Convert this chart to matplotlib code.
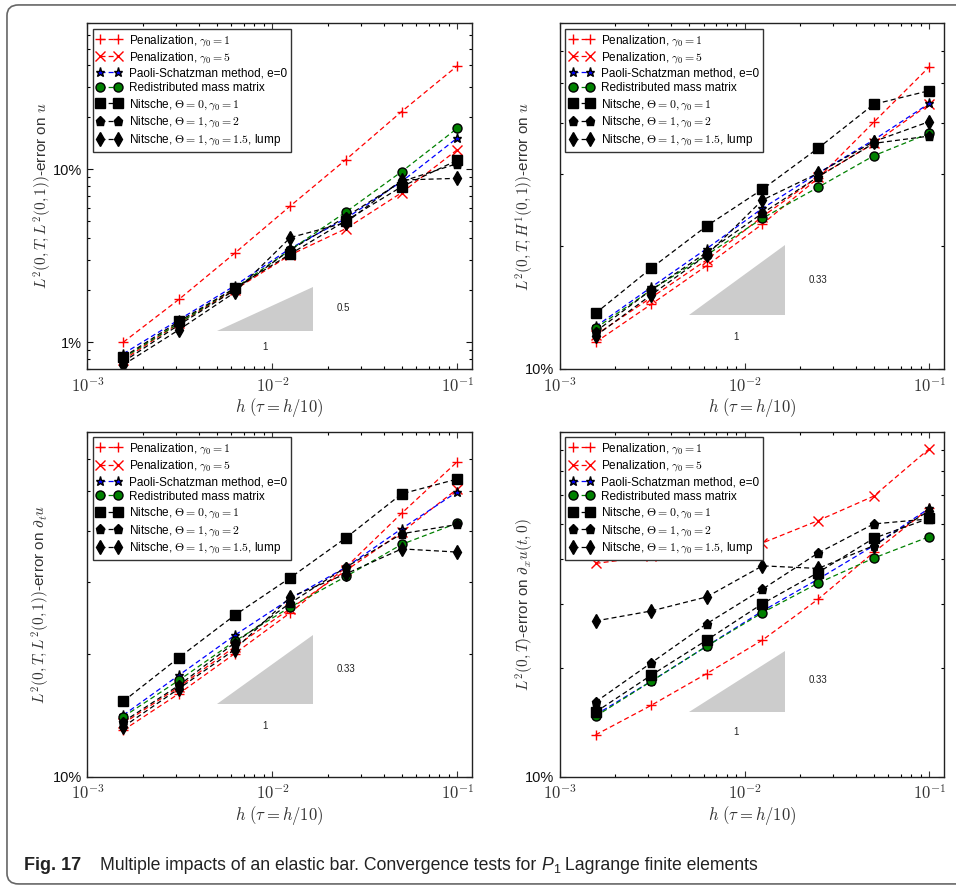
import numpy as np
import matplotlib
matplotlib.use("Agg")
import matplotlib.pyplot as plt
from matplotlib.patches import FancyBboxPatch, Polygon
from matplotlib.ticker import LogLocator, FuncFormatter, NullFormatter

plt.rcParams['font.family'] = ['Liberation Sans', 'DejaVu Sans']
plt.rcParams['mathtext.fontset'] = 'cm'

# mesh sizes
h = [1/640, 1/320, 1/160, 1/80, 1/40, 1/20, 1/10]

labels = ["Penalization, $\\gamma_0 = 1$",
          "Penalization, $\\gamma_0 = 5$",
          "Paoli-Schatzman method, e=0",
          "Redistributed mass matrix",
          "Nitsche, $\\Theta = 0, \\gamma_0 = 1$",
          "Nitsche, $\\Theta = 1, \\gamma_0 = 2$",
          "Nitsche, $\\Theta = 1, \\gamma_0 = 1.5$, lump"]
colors = ['r', 'r', 'b', 'g', 'k', 'k', 'k']
markers = ['+', 'x', '*', 'o', 's', 'p', 'd']

# L2(0,T,L2(0,1)) error on u
err_u_l2 = [
    [0.0100, 0.0177, 0.0327, 0.0614, 0.114, 0.216, 0.397],
    [0.0079, 0.0129, 0.0201, 0.0320, 0.0454, 0.0733, 0.130],
    [0.00857, 0.0135, 0.0212, 0.0349, 0.052, 0.085, 0.152],
    [0.0081, 0.0129, 0.0205, 0.0342, 0.0567, 0.097, 0.173],
    [0.0082, 0.0132, 0.0205, 0.0324, 0.0505, 0.0794, 0.113],
    [0.0077, 0.0126, 0.0200, 0.0342, 0.0532, 0.085, 0.108],
    [0.0074, 0.0118, 0.0194, 0.0403, 0.0492, 0.0868, 0.0887],
]
# L2(0,T,H1(0,1)) error on u
err_u_h1 = [
    [0.1162, 0.1439, 0.179, 0.2262, 0.2927, 0.401, 0.548],
    [0.1211, 0.1494, 0.1848, 0.2358, 0.295, 0.356, 0.444],
    [0.127, 0.1584, 0.197, 0.247, 0.301, 0.363, 0.446],
    [0.1257, 0.156, 0.190, 0.2336, 0.278, 0.332, 0.377],
    [0.1368, 0.1763, 0.2237, 0.275, 0.3464, 0.4436, 0.479],
    [0.1234, 0.156, 0.1928, 0.2403, 0.295, 0.356, 0.371],
    [0.1204, 0.1517, 0.190, 0.2588, 0.301, 0.3597, 0.4025],
]
# L2(0,T,L2(0,1)) error on d_t u
err_dtu = [
    [0.130, 0.1598, 0.2002, 0.2522, 0.326, 0.442, 0.591],
    [0.135, 0.166, 0.208, 0.258, 0.320, 0.397, 0.507],
    [0.1415, 0.1773, 0.222, 0.273, 0.326, 0.405, 0.499],
    [0.1402, 0.1723, 0.2147, 0.2604, 0.3094, 0.3707, 0.418],
    [0.153, 0.1958, 0.2485, 0.3072, 0.3848, 0.493, 0.536],
    [0.1363, 0.1675, 0.2127, 0.2664, 0.326, 0.3936, 0.4148],
    [0.1325, 0.1644, 0.2048, 0.2755, 0.314, 0.3614, 0.355],
]
# L2(0,T) error on d_x u(t,0)
err_dxu = [
    [0.1305, 0.1575, 0.1929, 0.2387, 0.3096, 0.4173, 0.553],
    [0.389, 0.4067, 0.4244, 0.443, 0.5108, 0.597, 0.808],
    [0.1483, 0.1836, 0.2297, 0.2873, 0.3518, 0.4355, 0.553],
    [0.1468, 0.1836, 0.2297, 0.2843, 0.343, 0.4024, 0.4613],
    [0.1509, 0.1908, 0.2387, 0.301, 0.367, 0.4564, 0.5186],
    [0.1609, 0.2064, 0.265, 0.330, 0.4155, 0.5002, 0.5164],
    [0.2696, 0.2873, 0.3143, 0.383, 0.3767, 0.4355, 0.5445],
]

ylabels = ["$L^2(0,T,L^2(0,1))$-error on $u$",
           "$L^2(0,T,H^1(0,1))$-error on $u$",
           "$L^2(0,T,L^2(0,1))$-error on $\\partial_t u$",
           "$L^2(0,T)$-error on $\\partial_x u(t,0)$"]
ylims = [(0.007, 0.7), (0.1, 0.7), (0.1, 0.7), (0.1, 0.9)]
ylabel_x = [-0.088, -0.0616, -0.092, -0.0616]

# slope triangles
tri_x = [0.005, 0.0165]
tri_base = [0.01154, 0.1355, 0.1503, 0.1506]
tri_slope = [0.5, 0.33, 0.33, 0.33]
slope_txt = ["0.5", "0.33", "0.33", "0.33"]
slope_txt_pos = [(0.0241, 0.0157), (0.0249, 0.165), (0.0249, 0.184), (0.0249, 0.1848)]
one_txt_pos = [(0.0091, 0.0094), (0.0090, 0.1195), (0.0091, 0.1332), (0.0090, 0.1327)]

data = [err_u_l2, err_u_h1, err_dtu, err_dxu]
positions = [[0.0915, 0.5831, 0.4022, 0.3906],
             [0.5855, 0.5831, 0.4019, 0.3906],
             [0.0915, 0.1224, 0.4022, 0.3898],
             [0.5855, 0.1224, 0.4019, 0.3898]]

fig = plt.figure(figsize=(9.56, 8.85), dpi=100)

frame = FancyBboxPatch((0.0073, 0.0012), 1.05, 0.9932, transform=fig.transFigure,
                       boxstyle="round,pad=0,rounding_size=0.012",
                       facecolor='none', edgecolor='#666666', linewidth=1.2)
fig.patches.append(frame)

for k in range(4):
    ax = fig.add_axes(positions[k])
    for i in range(7):
        mec = colors[i] if markers[i] in ['+', 'x'] else 'k'
        ax.plot(h, data[k][i], linestyle=(0, (4, 2.5)), color=colors[i], lw=0.9,
                marker=markers[i], markersize=7 if markers[i] in ['+', 'x', 'd'] else 6.5,
                markerfacecolor=colors[i], markeredgecolor=mec, markeredgewidth=1.0,
                label=labels[i])
    ax.set_xscale('log')
    ax.set_yscale('log')
    ax.set_xlim(1e-3, 0.12)
    ax.set_ylim(*ylims[k])

    y0 = tri_base[k]
    y1 = y0 * (tri_x[1] / tri_x[0]) ** tri_slope[k]
    ax.add_patch(Polygon([(tri_x[0], y0), (tri_x[1], y0), (tri_x[1], y1)],
                         closed=True, facecolor='#cccccc', edgecolor='none'))
    ax.text(*slope_txt_pos[k], slope_txt[k], fontsize=7, ha='center', va='center', color='#222222')
    ax.text(*one_txt_pos[k], "1", fontsize=7, ha='center', va='center', color='#222222')

    ax.xaxis.set_major_locator(LogLocator(base=10))
    ax.xaxis.set_major_formatter(FuncFormatter(lambda v, p: "$10^{%d}$" % round(np.log10(v))))
    ax.xaxis.set_minor_formatter(NullFormatter())
    ax.yaxis.set_major_locator(LogLocator(base=10))
    ax.yaxis.set_major_formatter(FuncFormatter(lambda v, p: "%g%%" % (v * 100)))
    ax.yaxis.set_minor_formatter(NullFormatter())
    ax.tick_params(which='both', direction='in', top=True, right=True, width=0.8)
    ax.tick_params(which='major', length=4)
    ax.tick_params(which='minor', length=2)
    ax.tick_params(axis='x', labelsize=12, colors='#333333', pad=5)
    ax.tick_params(axis='y', labelsize=10.5, colors='#111111', pad=4)
    for s in ax.spines.values():
        s.set_linewidth(1.0)
        s.set_color('#222222')

    ax.set_xlabel("$h\\ (\\tau = h/10)$", fontsize=12, color='#333333', labelpad=1)
    ax.set_ylabel(ylabels[k], fontsize=11, color='#333333')
    ax.yaxis.set_label_coords(ylabel_x[k], 0.5)

    leg = ax.legend(loc='upper left', numpoints=2, fontsize=8.5, fancybox=False,
                    framealpha=1, edgecolor='#333333', handlelength=2.1,
                    handletextpad=0.6, borderpad=0.35, labelspacing=0.22,
                    borderaxespad=0.45)
    leg.get_frame().set_linewidth(1.0)

# caption
fig.text(24 / 956, 1 - 870 / 885, "Fig. 17", fontsize=13, fontweight='bold',
         family=['Liberation Sans Narrow', 'Liberation Sans'], va='baseline', color='#222222')
fig.canvas.draw()
renderer = fig.canvas.get_renderer()
pieces = [("Multiple impacts of an elastic bar. Convergence tests for ", 'normal', 12.7, 0),
          ("P", 'italic', 12.7, 0),
          ("1", 'normal', 9, -3),
          (" Lagrange finite elements", 'normal', 12.7, 0)]
xpix = 100
for txt, style, fs, dy in pieces:
    t = fig.text(xpix / 956, (885 - 870 + dy) / 885, txt, fontsize=fs, style=style,
                 family=['Liberation Sans Narrow', 'Liberation Sans'], va='baseline',
                 color='#222222')
    xpix = t.get_window_extent(renderer).x1

fig.savefig("out.png", dpi=100)
